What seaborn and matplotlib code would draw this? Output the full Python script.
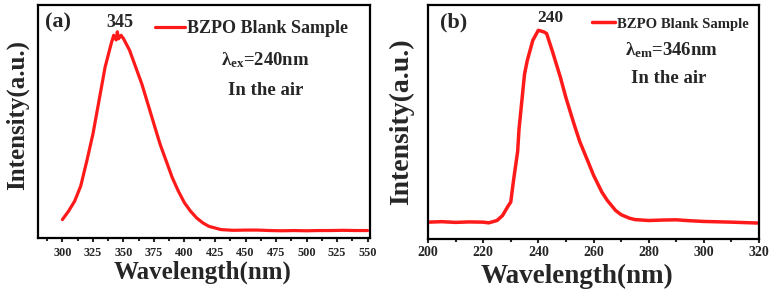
import numpy as np
import pandas as pd
import matplotlib
matplotlib.use("Agg")
import matplotlib.pyplot as plt
import seaborn as sns

# panel (a): emission spectrum, excitation 240 nm
wl_a = [300, 305, 310, 315, 320, 325, 330, 335, 340, 342, 344, 345, 346, 348, 350,
        355, 360, 365, 370, 375, 380, 385, 390, 395, 400, 405, 410, 415, 420, 425,
        430, 440, 450, 460, 470, 480, 490, 500, 510, 520, 530, 540, 550]
int_a = [0.079, 0.115, 0.158, 0.223, 0.331, 0.446, 0.590, 0.734, 0.835, 0.870, 0.850,
         0.885, 0.855, 0.870, 0.856, 0.806, 0.734, 0.662, 0.576, 0.489, 0.403, 0.331,
         0.259, 0.201, 0.151, 0.115, 0.086, 0.065, 0.050, 0.043, 0.036, 0.033, 0.034,
         0.034, 0.032, 0.031, 0.032, 0.031, 0.032, 0.032, 0.033, 0.032, 0.032]

# panel (b): excitation spectrum, emission 346 nm
wl_b = [200, 205, 210, 215, 220, 222, 225, 227, 229, 230, 231, 232.5, 233, 235, 236,
        238, 240, 242, 243, 245, 248, 250, 253, 255, 258, 260, 263, 265, 268, 270,
        273, 275, 280, 285, 290, 295, 300, 310, 320]
int_b = [0.072, 0.074, 0.071, 0.073, 0.072, 0.069, 0.079, 0.100, 0.140, 0.158, 0.250,
         0.374, 0.470, 0.705, 0.763, 0.849, 0.892, 0.885, 0.878, 0.806, 0.691, 0.604,
         0.489, 0.417, 0.331, 0.273, 0.201, 0.165, 0.122, 0.104, 0.089, 0.083, 0.079,
         0.081, 0.082, 0.078, 0.075, 0.072, 0.068]

series_label = "BZPO Blank Sample"
red = "#ff1a1a"

sns.set_style("ticks")
plt.rcParams["font.family"] = ["Liberation Serif", "DejaVu Serif"]
plt.rcParams["font.weight"] = "bold"
plt.rcParams["mathtext.fontset"] = "custom"
plt.rcParams["mathtext.rm"] = "Liberation Serif:bold"
plt.rcParams["mathtext.it"] = "Liberation Serif:bold"
plt.rcParams["mathtext.bf"] = "Liberation Serif:bold"

fig = plt.figure(figsize=(7.74, 2.93), dpi=100)
ax_a = fig.add_axes([38 / 774, 1 - 238 / 293, 332 / 774, 233 / 293])
ax_b = fig.add_axes([428 / 774, 1 - 239 / 293, 331 / 774, 234 / 293])

df_a = pd.DataFrame({"wl": wl_a, "I": int_a})
df_b = pd.DataFrame({"wl": wl_b, "I": int_b})

sns.lineplot(data=df_a, x="wl", y="I", ax=ax_a, color=red, lw=2.3, label=series_label)
sns.lineplot(data=df_b, x="wl", y="I", ax=ax_b, color=red, lw=2.5, label=series_label)


def style_axis(ax, xlim, major, minor, tick_fs, pad):
    ax.set_xlim(*xlim)
    ax.set_ylim(0, 1)
    ax.set_xticks(np.arange(major[0], major[1] + 0.1, major[2]))
    ax.set_xticks(np.arange(minor[0], minor[1] + 0.1, minor[2]), minor=True)
    ax.set_yticks([])
    for s in ax.spines.values():
        s.set_linewidth(1.6)
        s.set_color("black")
    ax.tick_params(axis="x", which="major", length=3.2, width=1.5, direction="out",
                   labelsize=tick_fs, pad=pad)
    ax.tick_params(axis="x", which="minor", length=2.5, width=1.5, direction="out")
    for lab in ax.get_xticklabels():
        lab.set_fontweight("bold")


style_axis(ax_a, (280, 552), (300, 550, 25), (287.5, 550, 12.5), 8.8, 3)
style_axis(ax_b, (200, 320), (200, 320, 20), (210, 320, 20), 10, 1.5)

# axis labels
ax_a.set_xlabel("Wavelength(nm)", fontsize=18, fontweight="bold")
ax_a.xaxis.set_label_coords(0.497, -0.146)
ax_a.xaxis.label.set_va("center")
ax_a.set_ylabel("Intensity(a.u.)", fontsize=18, fontweight="bold")
ax_a.yaxis.set_label_coords(-0.063, 0.528)
ax_a.yaxis.label.set_va("center")

ax_b.set_xlabel("Wavelength(nm)", fontsize=19.5, fontweight="bold")
ax_b.xaxis.set_label_coords(0.45, -0.158)
ax_b.xaxis.label.set_va("center")
ax_b.set_ylabel("Intensity(a.u.)", fontsize=20, fontweight="bold")
ax_b.yaxis.set_label_coords(-0.079, 0.5)
ax_b.yaxis.label.set_va("center")

# legends
ax_a.legend(loc="center left", bbox_to_anchor=(0.352, 0.897), frameon=False,
            prop={"size": 13, "weight": "bold"}, handlelength=1.67,
            handletextpad=0.1, borderpad=0, borderaxespad=0)
ax_b.legend(loc="center left", bbox_to_anchor=(0.495, 0.919), frameon=False,
            prop={"size": 10.6, "weight": "bold"}, handlelength=1.6,
            handletextpad=0.1, borderpad=0, borderaxespad=0)

# annotations
ax_a.text(0.021, 0.927, "(a)", transform=ax_a.transAxes, fontsize=16,
          fontweight="bold", va="center", ha="left")
ax_a.text(0.247, 0.927, "345", transform=ax_a.transAxes, fontsize=13,
          fontweight="bold", va="center", ha="center")
ax_a.text(0.684, 0.764, r"$\lambda_{ex}$=240nm", transform=ax_a.transAxes,
          fontsize=13.5, fontweight="bold", va="center", ha="center")
ax_a.text(0.687, 0.635, "In the air", transform=ax_a.transAxes, fontsize=13.5,
          fontweight="bold", va="center", ha="center")

ax_b.text(0.036, 0.927, "(b)", transform=ax_b.transAxes, fontsize=16,
          fontweight="bold", va="center", ha="left")
ax_b.text(0.369, 0.944, "240", transform=ax_b.transAxes, fontsize=12.5,
          fontweight="bold", va="center", ha="center")
ax_b.text(0.737, 0.808, r"$\lambda_{em}$=346nm", transform=ax_b.transAxes,
          fontsize=13.5, fontweight="bold", va="center", ha="center")
ax_b.text(0.728, 0.688, "In the air", transform=ax_b.transAxes, fontsize=13.5,
          fontweight="bold", va="center", ha="center")

fig.savefig("out.png", dpi=100)
